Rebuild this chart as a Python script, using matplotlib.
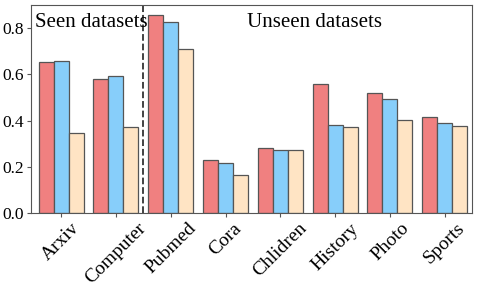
import numpy as np
import matplotlib
matplotlib.use("Agg")
from matplotlib import pyplot as plt

plt.rcParams['font.family'] = ['Liberation Serif', 'DejaVu Serif']

datasets = ["Arxiv", "Computer", "Pubmed", "Cora", "Chlidren", "History", "Photo", "Sports"]
red_vals = [0.655, 0.578, 0.858, 0.230, 0.282, 0.560, 0.521, 0.417]
blue_vals = [0.659, 0.591, 0.828, 0.217, 0.274, 0.382, 0.495, 0.391]
beige_vals = [0.347, 0.374, 0.712, 0.165, 0.274, 0.374, 0.404, 0.378]

colors = ["#F08080", "#87CEFA", "#FFE4C4"]
x = np.arange(len(datasets))
w = 0.274

fig = plt.figure(figsize=(4.8, 2.87), dpi=100)
ax = fig.add_axes([0.0646, 0.258, 0.919, 0.725])

for i, vals in enumerate([red_vals, blue_vals, beige_vals]):
    ax.bar(x + (i - 1) * w, vals, w, color=colors[i], edgecolor="#555555", linewidth=0.9)

ax.axvline(1.5, color="#333333", linestyle="--", linewidth=1.3)
ax.text(-0.475, 0.894, "Seen datasets", transform=ax.get_xaxis_transform(),
        fontsize=15, va="baseline", ha="left")
ax.text(3.39, 0.894, "Unseen datasets", transform=ax.get_xaxis_transform(),
        fontsize=15, va="baseline", ha="left")

ax.set_xlim(-0.55, 7.5)
ax.set_ylim(0, max(red_vals) * 1.05)
ax.set_yticks([0.0, 0.2, 0.4, 0.6, 0.8])
ax.set_xticks(x)
ax.set_xticklabels(datasets, rotation=45, ha="center")
ax.tick_params(axis="y", labelsize=12.5, length=3, pad=2, color="#555555")
ax.tick_params(axis="x", labelsize=14, length=3, pad=2, color="#555555")
for s in ax.spines.values():
    s.set_color("#555555")

fig.savefig("out.png", dpi=100)
